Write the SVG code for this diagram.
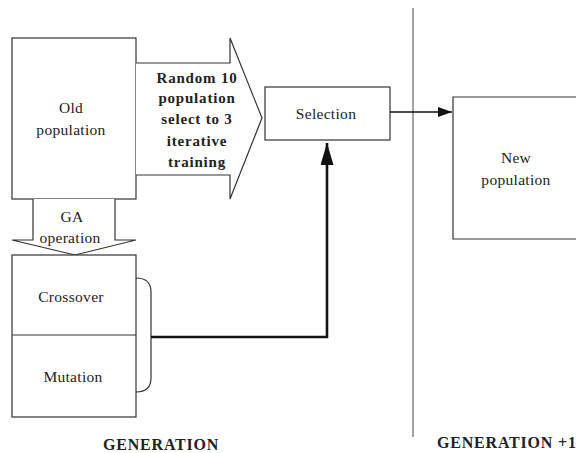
<svg xmlns="http://www.w3.org/2000/svg" width="576" height="453" viewBox="0 0 576 453">
  <style>
    .box { fill: #fff; stroke: #333; stroke-width: 1.2; }
    .thin { fill: none; stroke: #333; stroke-width: 1.2; }
    .lbl { font-family: "Liberation Serif", "Times New Roman", serif; font-size: 15.5px; fill: #222; text-anchor: middle; letter-spacing: 0.3px; }
    .bold { font-family: "Liberation Serif", "Times New Roman", serif; font-size: 15px; font-weight: bold; fill: #222; text-anchor: middle; letter-spacing: 0.8px; }
    .cap { font-family: "Liberation Serif", "Times New Roman", serif; font-size: 16px; font-weight: bold; fill: #222; letter-spacing: 0.8px; }
    .flow { fill: none; stroke: #111; stroke-width: 2.6; }
  </style>
  <defs>
    <marker id="head" viewBox="0 0 10 10" refX="10" refY="5" markerWidth="14" markerHeight="10" markerUnits="userSpaceOnUse" orient="auto" preserveAspectRatio="none">
      <path d="M0,0 L10,5 L0,10 Z" fill="#111"/>
    </marker>
    <marker id="headBig" viewBox="0 0 10 10" refX="10" refY="5" markerWidth="22" markerHeight="13" markerUnits="userSpaceOnUse" orient="auto" preserveAspectRatio="none">
      <path d="M0,0 L10,5 L0,10 Z" fill="#111"/>
    </marker>
  </defs>

  <rect width="576" height="453" fill="#fff"/>

  <!-- generation divider -->
  <line x1="413" y1="8" x2="413" y2="437" stroke="#555" stroke-width="1.1"/>

  <g id="old-population">
    <rect class="box" x="12" y="38" width="124" height="161"/>
    <text class="lbl" x="71" y="113">Old</text>
    <text class="lbl" x="71" y="135">population</text>
  </g>

  <g id="random-select">
    <path class="box" d="M136,63 L230,63 L230,38 L262,118 L230,199 L230,175 L136,175"/>
    <text class="bold" x="197" y="83">Random 10</text>
    <text class="bold" x="197" y="103">population</text>
    <text class="bold" x="197" y="124">select to 3</text>
    <text class="bold" x="197" y="146">iterative</text>
    <text class="bold" x="197" y="167">training</text>
  </g>

  <g id="ga-operation">
    <path class="box" d="M33,199 L33,240 L12,240 L75,255 L136,240 L115,240 L115,199"/>
    <text class="lbl" x="72" y="222">GA</text>
    <text class="lbl" x="70" y="243">operation</text>
  </g>

  <g id="operators">
    <rect class="box" x="12" y="255" width="124" height="162"/>
    <line class="thin" x1="12" y1="335" x2="136" y2="335"/>
    <text class="lbl" x="71" y="302">Crossover</text>
    <text class="lbl" x="73" y="382">Mutation</text>
    <path class="thin" d="M136,278 Q151,278 151,292 L151,378 Q151,392 136,392"/>
  </g>

  <g id="selection">
    <rect class="box" x="265" y="87" width="125" height="53"/>
    <text class="lbl" x="326" y="119">Selection</text>
  </g>

  <g id="new-population">
    <path class="box" d="M580,97 L453,97 L453,239 L580,239"/>
    <text class="lbl" x="516" y="163">New</text>
    <text class="lbl" x="516" y="185">population</text>
  </g>

  <g id="connectors">
    <path class="flow" d="M151,337 L327,337 L327,143" marker-end="url(#headBig)"/>
    <line x1="390" y1="112" x2="452" y2="112" stroke="#111" stroke-width="1.6" marker-end="url(#head)"/>
  </g>

  <g id="captions">
    <text class="cap" x="103" y="450">GENERATION</text>
    <text class="cap" x="437" y="448">GENERATION +1</text>
  </g>
</svg>
